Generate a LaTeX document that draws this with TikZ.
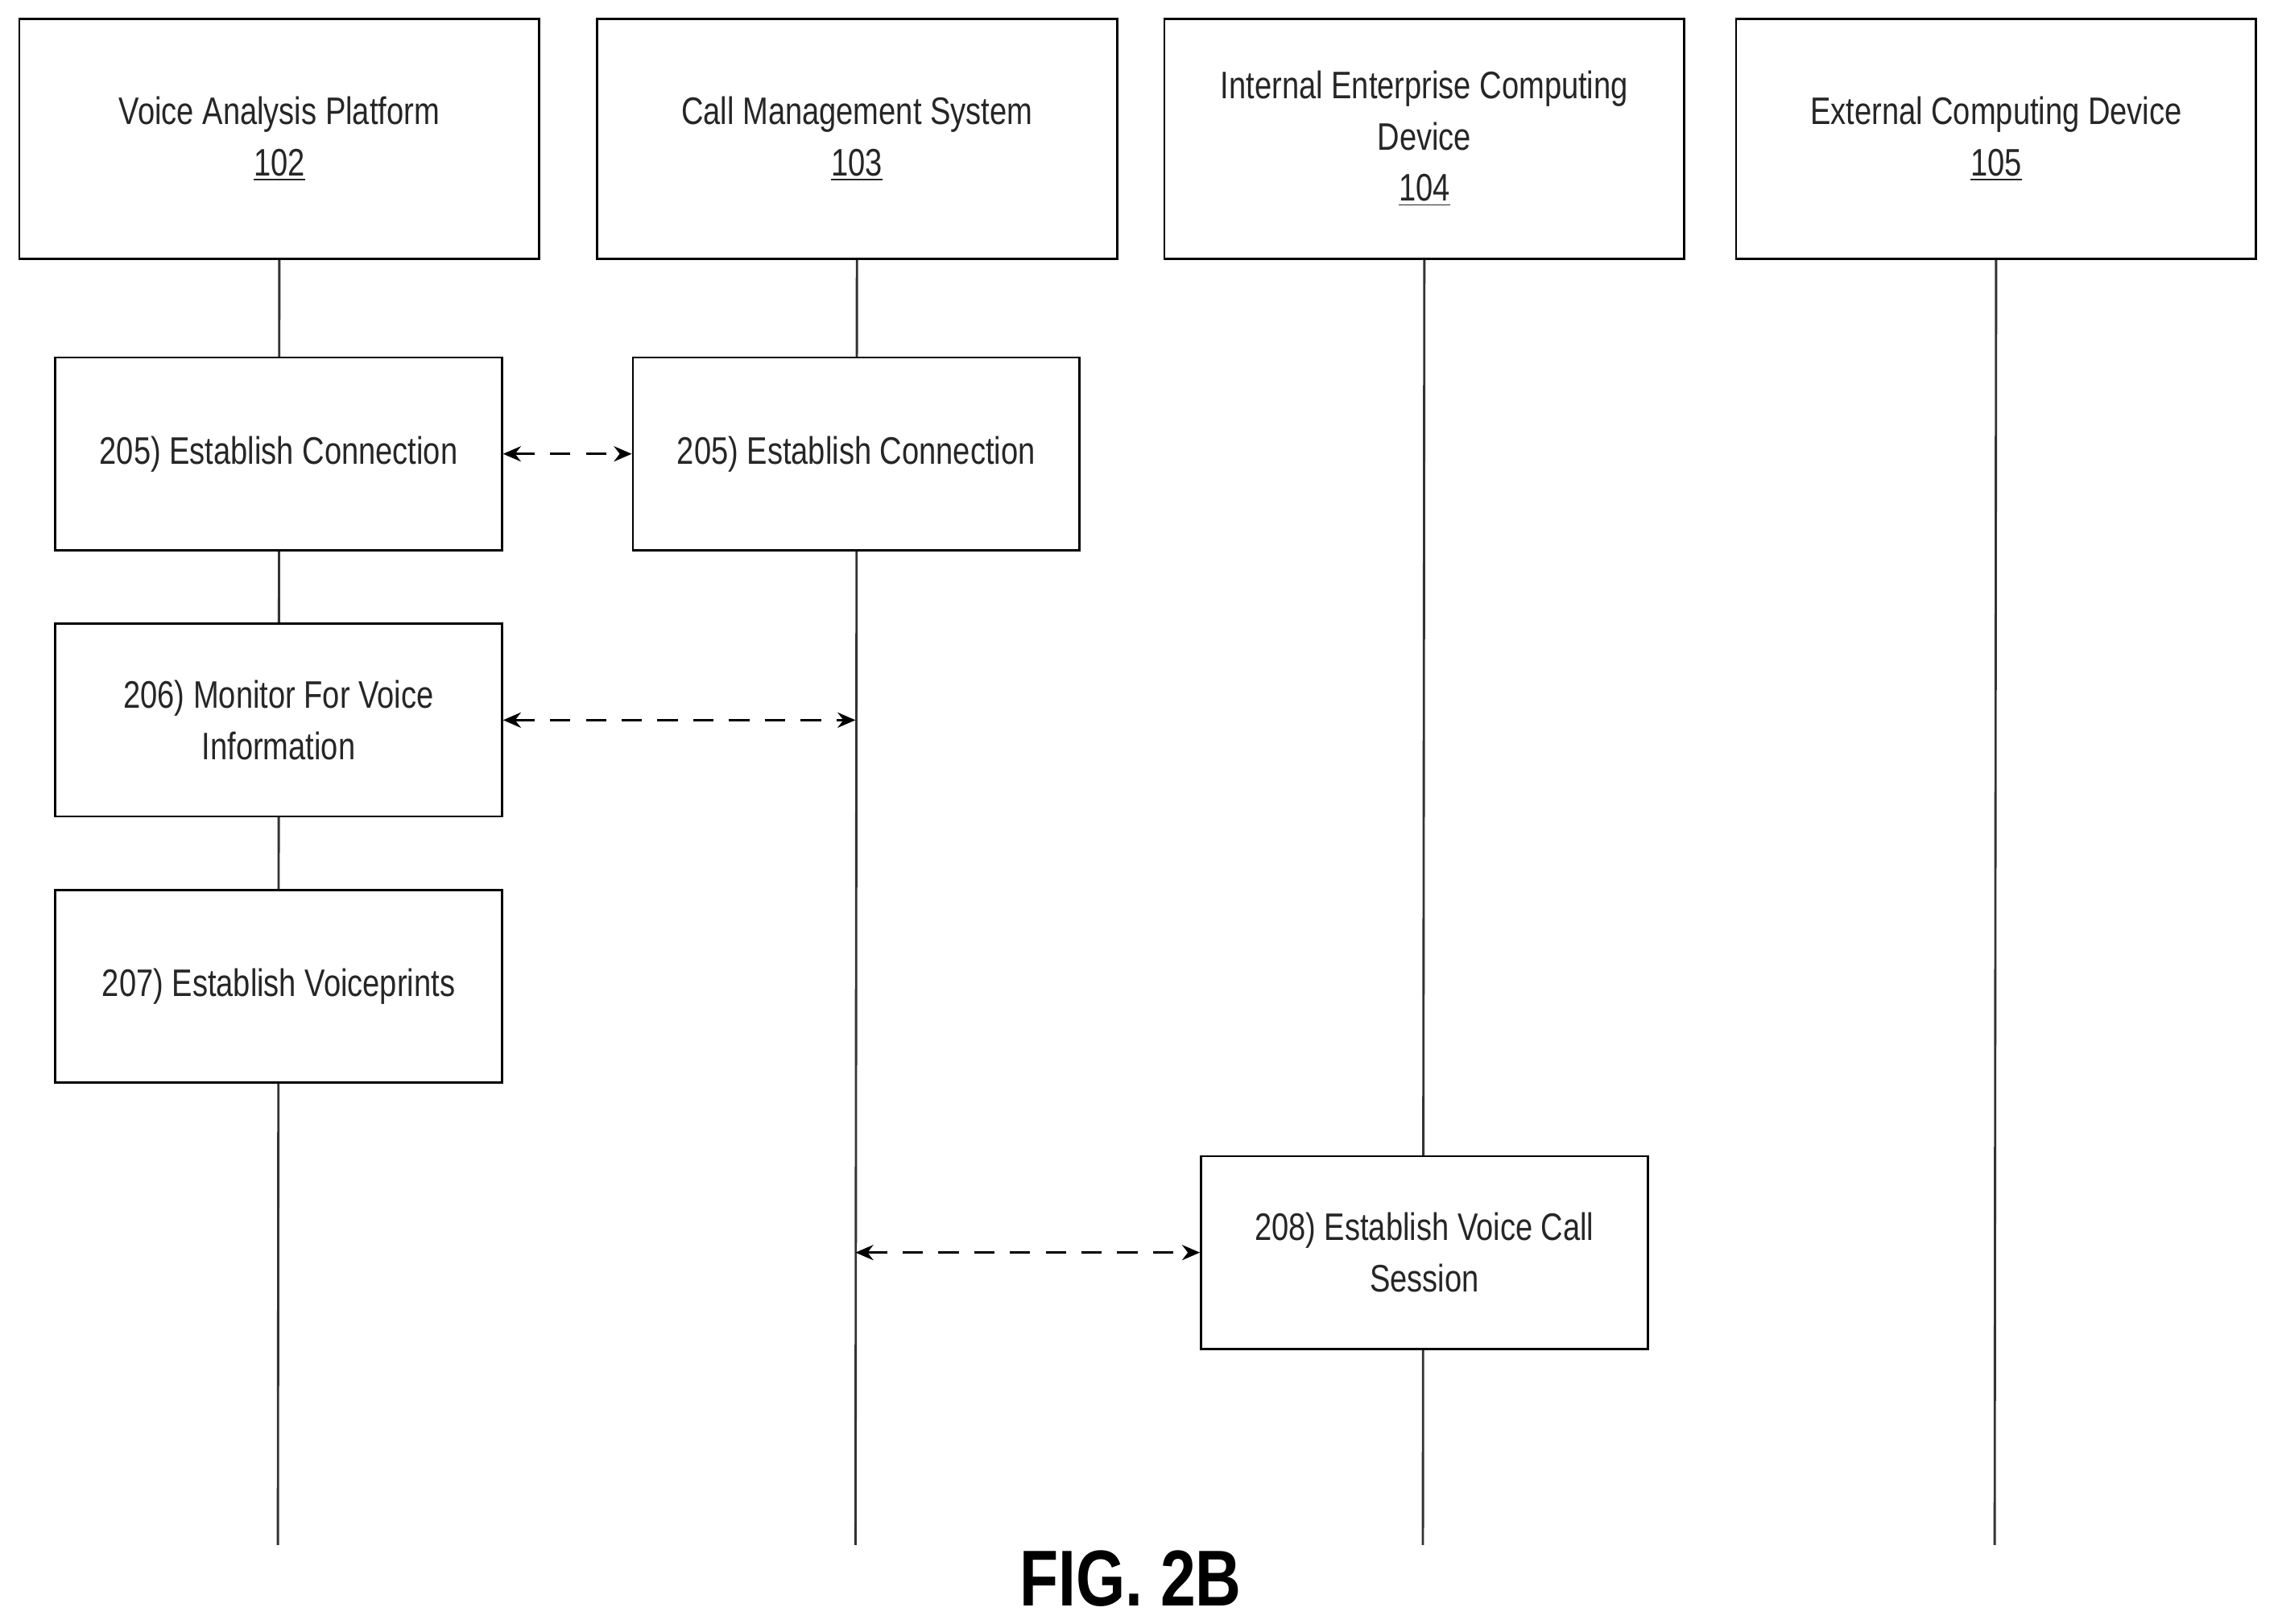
\documentclass[tikz,border=0pt]{standalone}
\usepackage{fontspec}
\setmainfont[FakeStretch=0.8]{Liberation Sans}
\usetikzlibrary{arrows.meta}
\begin{document}
\begin{tikzpicture}[x=0.02cm,y=-0.02cm,
  hdr/.style={draw,line width=0.9pt,fill=white,minimum width=7.15cm,minimum height=3.3cm,align=center,font=\fontsize{15}{20}\selectfont,text=black!85},
  box/.style={draw,line width=0.9pt,fill=white,minimum width=6.14cm,minimum height=2.65cm,align=center,font=\fontsize{15}{20}\selectfont,text=black!85},
  life/.style={line width=0.9pt,draw=black!80},
  msg/.style={line width=0.9pt,dash pattern=on 8pt off 6pt,{Stealth[length=7pt,width=6pt]}-{Stealth[length=7pt,width=6pt]}}]
\useasboundingbox (0,0) rectangle (1563,1116);
\node[hdr] (hA) at (192,95.5) {Voice Analysis Platform\\\underline{102}};
\node[hdr] (hB) at (589,95.5) {Call Management System\\\underline{103}};
\node[hdr] (hC) at (979,95.5) {Internal Enterprise Computing\\Device\\\underline{104}};
\node[hdr] (hD) at (1372,95.5) {External Computing Device\\\underline{105}};
\coordinate (eA) at (191,1062);
\coordinate (eB) at (588,1062);
\coordinate (eC) at (978,1062);
\coordinate (eD) at (1371,1062);
\draw[life] (hA.south) -- (eA);
\draw[life] (hB.south) -- (eB);
\draw[life] (hC.south) -- (eC);
\draw[life] (hD.south) -- (eD);
\node[box] (b205a) at (191.5,312) {205) Establish Connection};
\node[box] (b205b) at (588.5,312) {205) Establish Connection};
\node[box] (b206) at (191.5,495) {206) Monitor For Voice\\Information};
\node[box] (b207) at (191.5,678) {207) Establish Voiceprints};
\node[box] (b208) at (979,861) {208) Establish Voice Call\\Session};
\coordinate (m206) at (588,495);
\coordinate (m208) at (588,861);
\draw[msg] (b205a.east) -- (b205b.west);
\draw[msg] (b206.east) -- (m206);
\draw[msg] (m208) -- (b208.west);
\node[font=\fontsize{31}{36}\selectfont\bfseries] (fig) at (777,1085) {FIG. 2B};
\end{tikzpicture}
\end{document}
